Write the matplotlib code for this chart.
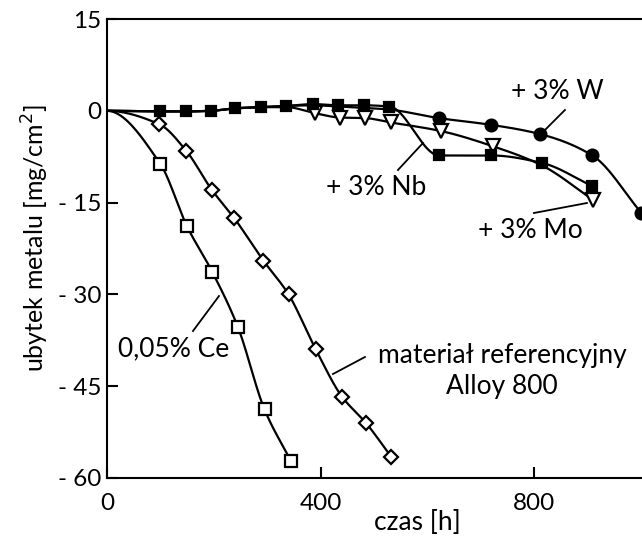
import numpy as np
import matplotlib
matplotlib.use("Agg")
import matplotlib.pyplot as plt

plt.rcParams['font.family'] = ['Lato', 'DejaVu Sans']

# ---- data ----
ce_t = [0, 100, 150, 197, 245, 295, 345]
ce_v = [0, -8.7, -18.9, -26.3, -35.3, -48.8, -57.3]

ref_t = [0, 98, 148, 197, 238, 293, 340, 391, 440, 485, 532]
ref_v = [0, -2.2, -6.5, -13.0, -17.5, -24.5, -30.0, -39.0, -46.7, -51.0, -56.5]

nb_t = [0, 99, 148, 195, 240, 289, 336, 386, 433, 481, 529, 622, 720, 814, 909]
nb_v = [0, -0.1, -0.1, 0.0, 0.4, 0.6, 0.8, 1.1, 0.9, 0.9, 0.7, -7.3, -7.3, -8.5, -12.3]

w_t = [0, 99, 148, 195, 240, 289, 336, 386, 433, 481, 529, 622, 720, 811, 909, 1001]
w_v = [0, -0.1, -0.1, 0.0, 0.4, 0.6, 0.8, 0.9, 0.7, 0.5, 0.2, -1.2, -2.3, -3.8, -7.3, -16.7]
w_hidden = list(range(1, 11))  # markers covered by the Nb squares

mo_t = [0, 99, 148, 195, 240, 289, 336, 390, 436, 484, 531, 625, 723, 814, 911]
mo_v = [0, -0.1, -0.1, 0.0, 0.4, 0.6, 0.6, -0.4, -1.1, -1.2, -1.9, -3.3, -5.8, -8.9, -14.6]
mo_hidden = [1, 2, 3, 4, 5, 6, 13]  # markers covered by the Nb squares

xticks = [0, 400, 800]
xticklabels = ["0", "400", "800"]
yticks = [15, 0, -15, -30, -45, -60]
yticklabels = ["15", "0", "- 15", "- 30", "- 45", "- 60"]


def pchip(x, y):
    x = np.asarray(x, float); y = np.asarray(y, float)
    h = np.diff(x); d = np.diff(y) / h
    m = np.zeros_like(y)
    for k in range(1, len(x) - 1):
        if d[k - 1] * d[k] > 0:
            w1 = 2 * h[k] + h[k - 1]; w2 = h[k] + 2 * h[k - 1]
            m[k] = (w1 + w2) / (w1 / d[k - 1] + w2 / d[k])
    m[0] = 0.0
    m[-1] = d[-1]
    xs, ys = [], []
    for k in range(len(x) - 1):
        t = np.linspace(0, 1, 40)
        h00 = 2 * t**3 - 3 * t**2 + 1; h10 = t**3 - 2 * t**2 + t
        h01 = -2 * t**3 + 3 * t**2; h11 = t**3 - t**2
        xs.append(x[k] + t * h[k])
        ys.append(h00 * y[k] + h10 * h[k] * m[k] + h01 * y[k + 1] + h11 * h[k] * m[k + 1])
    return np.concatenate(xs), np.concatenate(ys)


fig = plt.figure(figsize=(6.42, 5.5), dpi=100)
ax = fig.add_axes([107 / 642, 1 - 478 / 550, (642 - 107) / 642, (478 - 19) / 550])
ax.set_xlim(0, 1002)
ax.set_ylim(-60, 15)

lw = 1.6

def series(t, v, marker, fc, size, skip=()):
    sx, sy = pchip(t, v)
    ax.plot(sx, sy, color='black', lw=lw, zorder=2)
    idx = [i for i in range(1, len(t)) if i not in skip]
    ax.plot(np.asarray(t)[idx], np.asarray(v)[idx], ls='none', marker=marker,
            ms=size, mfc=fc, mec='black', mew=1.6, zorder=3)

series(w_t, w_v, 'o', 'black', 8.5, skip=w_hidden)
series(mo_t, mo_v, 'v', 'white', 9.5, skip=mo_hidden)
series(nb_t, nb_v, 's', 'black', 7.8)
series(ref_t, ref_v, 'D', 'white', 7.6)
series(ce_t, ce_v, 's', 'white', 8)

for s in ['top', 'left', 'bottom']:
    ax.spines[s].set_linewidth(1.5)
ax.spines['right'].set_visible(False)

ax.set_xticks(xticks)
ax.set_xticklabels(xticklabels)
ax.set_yticks(yticks)
ax.set_yticklabels(yticklabels)
ax.tick_params(axis='both', direction='in', length=8, width=1.5, labelsize=17.5)
ax.tick_params(axis='x', pad=11)
ax.tick_params(axis='y', pad=4)

FS = 19
fig.text(417 / 642, 1 - 522 / 550, "czas [h]", fontsize=FS, ha='center', va='center')
fig.text(35 / 642, 1 - 238 / 550, "ubytek metalu [mg/cm$^2$]", fontsize=18,
         rotation=90, ha='center', va='center')


def px2d(px, py):
    return (px - 107) / 0.534, (110.8 - py) / 6.12

lab = [
    ("+ 3% W", (557, 92), (565, 110), (545, 130)),
    ("+ 3% Nb", (376, 188), (398, 170), (423, 143)),
    ("+ 3% Mo", (530, 230), (534, 213), (587, 203)),
    ("0,05% Ce", (174, 349), (193, 331), (219, 296)),
    ("materiał referencyjny\nAlloy 800", (502, 371), (365, 357), (333, 374)),
]
for txt, tp, p0, p1 in lab:
    tx, ty = px2d(*tp)
    x0, y0 = px2d(*p0)
    x1, y1 = px2d(*p1)
    ax.text(tx, ty, txt, fontsize=FS, ha='center', va='center', zorder=5,
            linespacing=1.3)
    ax.plot([x0, x1], [y0, y1], color='black', lw=1.3, zorder=4)

fig.savefig("out.png", dpi=100)
